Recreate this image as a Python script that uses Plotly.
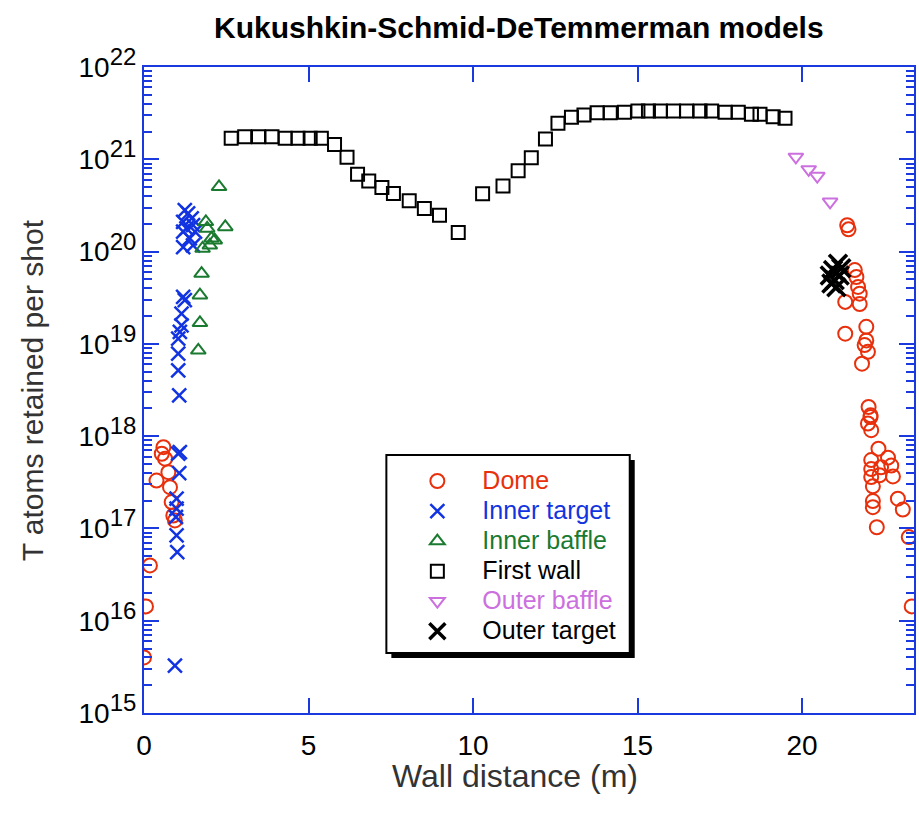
import plotly.graph_objects as go

# ---- data: wall distance (m) and T atoms retained per shot ----
dome_x = [0.59, 0.54, 0.64, 0.74, 0.38, 0.79, 0.84, 0.89, 0.94, 0.18, 0.06, 0.0,
          21.37, 21.41, 21.60, 21.65, 21.70, 21.75, 21.31, 21.75, 21.31, 21.95, 21.95,
          21.90, 22.00, 21.82, 22.02, 22.08, 22.08, 22.00, 22.10, 22.32, 22.61, 22.10,
          22.71, 22.10, 22.40, 22.35, 22.76, 22.10, 22.15, 22.15, 22.15, 22.91, 23.06,
          22.27, 23.24, 23.33]
dome_y = [7.6e17, 6.45e17, 5.7e17, 4.07e17, 3.3e17, 2.8e17, 1.93e17, 1.38e17, 1.22e17,
          3.97e16, 1.43e16, 4.0e15,
          1.93e20, 1.74e20, 6.3e19, 5.3e19, 4.14e19, 3.5e19, 2.85e19, 2.7e19, 1.29e19,
          1.53e19, 1.09e19, 9.7e18, 8.2e18, 6.1e18, 2.07e18, 1.68e18, 1.61e18, 1.37e18,
          1.16e18, 7.3e17, 5.85e17, 5.5e17, 4.8e17, 4.4e17, 4.6e17, 3.76e17, 3.66e17,
          3.6e17, 2.86e17, 1.98e17, 1.70e17, 2.1e17, 1.6e17, 1.03e17, 8.05e16, 1.43e16]

inner_target_x = [1.24, 1.34, 1.45, 1.19, 1.49, 1.29, 1.19, 1.55, 1.39, 1.19, 1.49,
                  1.19, 1.24, 1.14, 1.14, 1.09, 1.04, 1.04, 1.04, 1.07,
                  1.09, 1.04, 1.07, 0.99, 0.99, 0.97, 0.99, 1.01, 0.94]
inner_target_y = [2.81e20, 2.59e20, 2.29e20, 2.10e20, 1.93e20, 1.78e20, 1.64e20, 1.64e20,
                  1.39e20, 1.12e20, 1.17e20,
                  3.22e19, 2.97e19, 2.13e19, 1.59e19, 1.35e19, 1.14e19, 7.85e18, 5.17e18,
                  2.77e18,
                  6.73e17, 6.46e17, 3.98e17, 2.10e17, 1.64e17, 1.33e17, 8.4e16, 5.53e16,
                  3.27e15]

inner_baffle_x = [2.28, 2.47, 1.88, 1.92, 2.05, 2.15, 2.00, 1.78, 1.75, 1.70, 1.70, 1.65]
inner_baffle_y = [5.03e20, 1.85e20, 2.1e20, 1.78e20, 1.39e20, 1.33e20, 1.17e20, 1.08e20,
                  5.78e19, 3.37e19, 1.69e19, 8.5e18]

first_wall_x = [2.65, 3.06, 3.48, 3.89, 4.29, 4.68, 5.05, 5.39, 5.79, 6.17, 6.49, 6.83,
                7.23, 7.58, 8.06, 8.52, 8.98, 9.55, 10.29, 10.91, 11.37, 11.77, 12.20,
                12.58, 12.99, 13.37, 13.77, 14.17, 14.60, 15.01, 15.33, 15.69, 16.09,
                16.49, 16.90, 17.25, 17.66, 18.06, 18.46, 18.72, 19.12, 19.48]
first_wall_y = [1.69e21, 1.75e21, 1.75e21, 1.75e21, 1.69e21, 1.69e21, 1.69e21, 1.69e21,
                1.45e21, 1.05e21, 6.9e20, 5.8e20, 4.96e20, 4.27e20, 3.55e20, 2.93e20,
                2.48e20, 1.61e20, 4.23e20, 5.13e20, 7.5e20, 1.04e21, 1.66e21, 2.45e21,
                2.85e21, 3.01e21, 3.19e21, 3.19e21, 3.23e21, 3.33e21, 3.33e21, 3.33e21,
                3.33e21, 3.33e21, 3.33e21, 3.33e21, 3.23e21, 3.23e21, 3.07e21, 3.07e21,
                2.89e21, 2.78e21]

outer_baffle_x = [19.81, 20.20, 20.46, 20.85]
outer_baffle_y = [1.06e21, 7.77e20, 6.58e20, 3.46e20]

outer_target_x = [21.09, 21.19, 20.94, 20.84, 21.14, 20.99, 20.89, 21.04]
outer_target_y = [7.4e19, 6.6e19, 6.3e19, 5.5e19, 5.5e19, 4.9e19, 4.5e19, 4.1e19]

decades = list(range(15, 23))
decade_labels = ['10<sup><span style="font-size:24px">%d</span></sup>' % d for d in decades]
x_ticks = [0, 5, 10, 15, 20]

RED = "#e8300c"
BLUE = "#1234e0"
GREEN = "#1a7a30"
VIOLET = "#cc70e0"
AXIS = "#1a3ae0"


def colored(name, color):
    return '<span style="color:%s;font-size:25px">%s</span>' % (color, name)


series = [
    ("Dome", dome_x, dome_y, "circle-open", RED, 14, 2),
    ("Inner target", inner_target_x, inner_target_y, "x-thin-open", BLUE, 14, 2.5),
    ("Inner baffle", inner_baffle_x, inner_baffle_y, "triangle-up-open", GREEN, 13, 2),
    ("First wall", first_wall_x, first_wall_y, "square-open", "#000000", 13, 2),
    ("Outer baffle", outer_baffle_x, outer_baffle_y, "triangle-down-open", VIOLET, 13, 2),
    ("Outer target", outer_target_x, outer_target_y, "x-thin-open", "#000000", 18, 3.5),
]

fig = go.Figure()
for name, xs, ys, sym, col, size, lw in series:
    fig.add_trace(go.Scatter(
        x=xs, y=ys, mode="markers", name=colored(name, col),
        marker=dict(symbol=sym, size=size, color=col,
                    line=dict(color=col, width=lw)),
    ))

minor_vals = [float(m) * 10.0 ** d for d in range(15, 22) for m in range(2, 10)]

fig.update_layout(
    width=919, height=824,
    margin=dict(l=144, r=3, t=67, b=111),
    paper_bgcolor="white", plot_bgcolor="white",
    font=dict(family="Liberation Sans, Arial, sans-serif", size=27, color="#000000"),
    showlegend=True,
    legend=dict(
        x=(393 - 144) / 772, y=(713 - 461) / 646, xanchor="left", yanchor="top",
        bgcolor="rgba(0,0,0,0)", borderwidth=0,
        font=dict(size=20.8), itemwidth=80, tracegroupgap=0,
    ),
    xaxis=dict(
        range=[0, 23.4], tickmode="array", tickvals=x_ticks,
        showline=True, linecolor=AXIS, linewidth=2, mirror="allticks",
        ticks="inside", ticklen=15, tickwidth=2, tickcolor=AXIS,
        showgrid=False, zeroline=False, ticklabelstandoff=6,
        tickfont=dict(size=28),
    ),
    yaxis=dict(
        type="log", range=[15, 22], tickmode="array",
        tickvals=[10.0 ** d for d in decades], ticktext=decade_labels,
        showline=True, linecolor=AXIS, linewidth=2, mirror="allticks",
        ticks="inside", ticklen=15, tickwidth=2, tickcolor=AXIS,
        minor=dict(ticks="inside", ticklen=8, tickwidth=2, tickcolor=AXIS,
                   tickmode="array", tickvals=minor_vals, showgrid=False),
        showgrid=False, zeroline=False,
        tickfont=dict(size=28),
    ),
    annotations=[
        dict(text="<b>Kukushkin-Schmid-DeTemmerman models</b>", xref="paper", yref="paper",
             x=(520 - 144) / 772, y=(713 - 28) / 646, xanchor="center", yanchor="middle",
             showarrow=False, font=dict(size=30, color="#000000")),
        dict(text="Wall distance (m)", xref="paper", yref="paper",
             x=(516 - 144) / 772, y=(713 - 776) / 646, xanchor="center", yanchor="middle",
             showarrow=False, font=dict(size=32, color="#333333")),
        dict(text="T atoms retained per shot", xref="paper", yref="paper",
             x=(32 - 144) / 772, y=(713 - 390) / 646, xanchor="center", yanchor="middle",
             textangle=-90, showarrow=False,
             font=dict(size=30, color="#333333")),
    ],
    shapes=[
        # drop shadow behind the legend box
        dict(type="rect", xref="paper", yref="paper",
             x0=(392 - 144) / 772, x1=(636 - 144) / 772,
             y0=(713 - 658) / 646, y1=(713 - 460) / 646,
             fillcolor="#000000", line=dict(width=0), layer="above"),
        dict(type="rect", xref="paper", yref="paper",
             x0=(387 - 144) / 772, x1=(631 - 144) / 772,
             y0=(713 - 653) / 646, y1=(713 - 455) / 646,
             fillcolor="#ffffff", line=dict(color="#000000", width=2), layer="above"),
    ],
)

fig.write_html("out.html")
